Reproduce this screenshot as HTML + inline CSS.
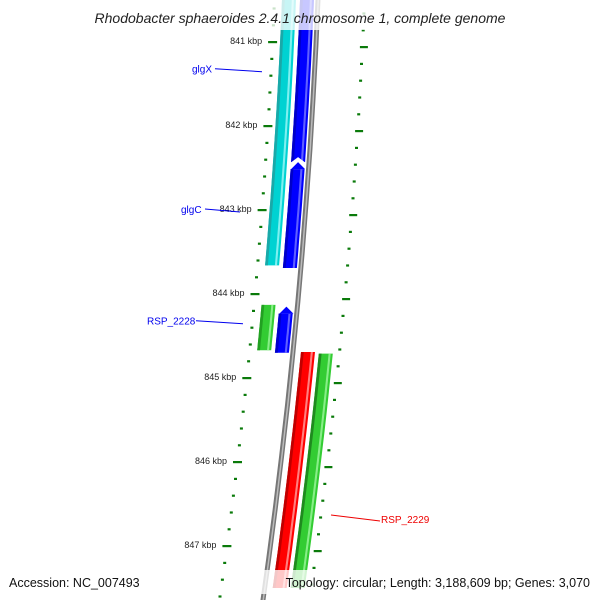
<!DOCTYPE html>
<html><head><meta charset="utf-8">
<style>
html,body{margin:0;padding:0;background:#fff}
svg{display:block}
text{font-family:"Liberation Sans","DejaVu Sans",sans-serif}
</style></head>
<body>
<svg id="map" width="600" height="600" viewBox="0 0 600 600" xmlns="http://www.w3.org/2000/svg">
<g id="feat"></g>
<g id="ticks"></g>
<g id="labs"></g>
<rect x="0" y="0" width="600" height="30" fill="#fff" opacity="0.78"/>
<text x="300" y="23" text-anchor="middle" font-size="14" font-style="italic" fill="#222">Rhodobacter sphaeroides 2.4.1 chromosome 1, complete genome</text>
<rect x="258" y="570" width="342" height="24" fill="#fff" opacity="0.78"/>
<text x="9" y="587" font-size="12.5" fill="#111">Accession: NC_007493</text>
<text x="590" y="587" text-anchor="end" font-size="12.5" fill="#111">Topology: circular; Length: 3,188,609 bp; Genes: 3,070</text>
</svg>
<script>
// data (kbp)
const majorTicks = [841, 842, 843, 844, 845, 846, 847];
const tickLabels = ["841 kbp","842 kbp","843 kbp","844 kbp","845 kbp","846 kbp","847 kbp"];
const featNames  = ["cyan-orf","glgX","glgC","RSP_2228-orf","RSP_2228","RSP_2229","green-orf"];
const featStart  = [840.4, 840.4, 842.43, 844.13, 844.15, 844.69, 844.71];
const featEnd    = [843.66, 842.43, 843.69, 844.67, 844.7, 847.5, 847.5];
const labelNames = ["glgX","glgC","RSP_2228","RSP_2229"];
const labelPos   = [841.33, 843.0, 844.33, 846.69];

const NS="http://www.w3.org/2000/svg";
function yOf(k){ return 42 + (k-841)*84; }
function base(y){ return 318 - 0.04167*y - 0.0000833*y*y; }
function band(o1,o2,y1,y2,tipTop){
  const pts=[],n=12;
  for(let i=0;i<=n;i++){const y=y1+(y2-y1)*i/n;pts.push([base(y)+o1,y]);}
  for(let i=n;i>=0;i--){const y=y1+(y2-y1)*i/n;pts.push([base(y)+o2,y]);}
  return pts.map(p=>p[0].toFixed(1)+","+p[1].toFixed(1)).join(" ");
}
function mk(tag,attrs,parent){const e=document.createElementNS(NS,tag);for(const k in attrs)e.setAttribute(k,attrs[k]);parent.appendChild(e);return e;}
const feat=document.getElementById('feat'), ticks=document.getElementById('ticks'), labs=document.getElementById('labs');

// backbone
let bb=mk('polygon',{points:band(-2.5,2.5,-5,610),fill:'#777'},feat);


mk('polygon',{points:band(-0.5,1,-5,610),fill:'#bbb'},feat);

// feature styles: offsets and colors
const fStyle=[
 {o1:-36,o2:-22,dark:'#1aa8a8',main:'#00d2d2',light:'#7ff0f0'},
 {o1:-18,o2:-4,dark:'#0000c8',main:'#0000ff',light:'#6060ff',notch:'bottom'},
 {o1:-18,o2:-4,dark:'#0000c8',main:'#0000ff',light:'#6060ff',tip:true},
 {o1:-36,o2:-22,dark:'#22a022',main:'#33cc33',light:'#88ee88'},
 {o1:-18,o2:-4,dark:'#0000c8',main:'#0000ff',light:'#6060ff',tip:true},
 {o1:8,o2:22,dark:'#c00000',main:'#ff0000',light:'#ff8080'},
 {o1:26,o2:40,dark:'#1f8a1f',main:'#33cc33',light:'#88ee88'}
];
featStart.forEach((s,i)=>{
  const st=fStyle[i]; const y1=yOf(s), y2=yOf(featEnd[i]);
  let top=y1;
  if(st.tip) top=y1+7;
  const g=mk('g',{},feat);
  
  
  const w=st.o2-st.o1;
  mk('polygon',{points:band(st.o1,st.o2,top,y2),fill:st.main},g);
  mk('polygon',{points:band(st.o1,st.o1+w*0.2,top,y2),fill:st.dark},g);
  mk('polygon',{points:band(st.o1+w*0.7,st.o1+w*0.85,top,y2),fill:st.light},g);
  if(st.tip){
    const b=base(y1);
    mk('polygon',{points:(b+st.o1)+","+(top)+" "+(b+(st.o1+st.o2)/2)+","+(y1)+" "+(b+st.o2)+","+(top),fill:st.main},g);
  }
  if(st.notch){
    const b=base(y2);
    mk('polygon',{points:(b+st.o1-1)+","+(y2+1)+" "+(b+(st.o1+st.o2)/2)+","+(y2-5)+" "+(b+st.o2+1)+","+(y2+1),fill:'#fff'},g);
  }
});

// inner ruler ticks
for(let k=840.4;k<=848.2;k+=0.2){
  const kr=Math.round(k*10)/10, y=yOf(kr);
  if(y<-5||y>605) continue;
  const major=Math.abs(kr-Math.round(kr))<0.01;
  const b=base(y);
  const t=mk('rect',{x:(major?b-48:b-45).toFixed(1),y:(y-1).toFixed(1),width:major?9:3,height:2.2,fill:'#0a7a0a'},ticks);
  
  
  // outer ruler
  const yo=y+5, bo=base(yo);
  const t2=mk('rect',{x:(major?bo+44:bo+45).toFixed(1),y:(yo-1).toFixed(1),width:major?8:3,height:2.2,fill:'#0a7a0a'},ticks);
  
  
}
majorTicks.forEach((k,i)=>{
  const y=yOf(k);
  const t=mk('text',{x:(base(y)-54).toFixed(1),y:(y+2).toFixed(1),'text-anchor':'end','font-size':'9',fill:'#222'},ticks);
  
  
  t.textContent=tickLabels[i];
});

// gene labels
const lStyle=[
 {tx:192,anchor:'start',col:'#0000ee',lx1:215,lx2:262,side:'L'},
 {tx:181,anchor:'start',col:'#0000ee',lx1:205,lx2:240,side:'L'},
 {tx:147,anchor:'start',col:'#0000ee',lx1:196,lx2:243,side:'L'},
 {tx:381,anchor:'start',col:'#ee0000',lx1:331,lx2:380,side:'R'}
];
labelNames.forEach((n,i)=>{
  const y=yOf(labelPos[i]), s=lStyle[i];
  const g=mk('g',{},labs);
  
  
  if(s.side==='L'){
    mk('line',{x1:s.lx1,y1:y-1,x2:s.lx2,y2:y+2,stroke:s.col,'stroke-width':1},g);
  }else{
    mk('line',{x1:s.lx1,y1:y-5,x2:s.lx2,y2:y+1,stroke:s.col,'stroke-width':1},g);
  }
  const t=mk('text',{x:s.tx,y:y+3,'font-size':'10',fill:s.col},g);
  t.textContent=n;
});
</script>
</body></html>
